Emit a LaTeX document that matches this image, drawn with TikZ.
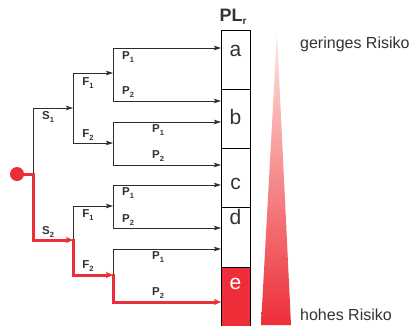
\documentclass[tikz,border=0pt]{standalone}
\usepackage{fontspec}
\setmainfont{Liberation Sans}
\usetikzlibrary{arrows.meta}
\definecolor{myred}{RGB}{237,46,56}
\definecolor{ln}{RGB}{45,45,45}
\definecolor{txt}{RGB}{50,50,50}
\definecolor{salmon}{RGB}{244,158,136}
\definecolor{pale}{RGB}{253,232,225}
\newcommand\lbl[2]{\textbf{#1\raisebox{-0.4ex}{\fontsize{7.5}{7.5}\selectfont #2}}}
\begin{document}
\begin{tikzpicture}[x=1pt,y=-1pt,
  conn/.style={draw=ln,line width=0.9pt},
  arr/.style={conn,-{Stealth[length=7pt,width=4.5pt,inset=1.5pt]}},
  rconn/.style={draw=myred,line width=3pt,line cap=rect},
  rarr/.style={rconn,-{Stealth[length=7pt,width=6pt,inset=1.5pt]}},
  box/.style={draw=black,line width=1.3pt,minimum width=29pt,inner sep=0pt,anchor=north west},
  letter/.style={font=\fontsize{21}{21}\selectfont,text=txt,inner sep=0pt},
  lab/.style={font=\fontsize{11.5}{11.5}\selectfont,text=txt,inner sep=0pt},
  risk/.style={font=\fontsize{16}{16}\selectfont,text=txt,inner sep=0pt,anchor=west}]
\useasboundingbox (0,0) rectangle (415,325);
% PL_r column
\node[box,minimum height=59pt] (ba) at (221,30) {};
\node[box,minimum height=59pt] (bb) at (221,89) {};
\node[box,minimum height=59pt] (bc) at (221,148) {};
\node[box,minimum height=60pt] (bd) at (221,207) {};
\node[box,minimum height=59pt,fill=myred] (be) at (221,267) {};
\node[letter] (la) at (235.5,51) {a};
\node[letter] (lb) at (235.5,117) {b};
\node[letter] (lc) at (235.5,184) {c};
\node[letter] (ld) at (235.5,217) {d};
\node[letter,text=white] (le) at (235.5,284) {e};
\node[inner sep=0pt,text=txt] (pl) at (233,17) {\textbf{\fontsize{18}{18}\selectfont PL\raisebox{-0.3ex}{\fontsize{10}{10}\selectfont r}}};
% risk wedge
\shade[top color=pale,middle color=salmon,bottom color=myred] (277,33) -- (291,325) -- (261,325) -- cycle;
\node[risk] (lo) at (300,44) {geringes Risiko};
\node[risk] (hi) at (300,315) {hohes Risiko};
% tree coordinates
\node[circle,fill=myred,minimum size=14pt,inner sep=0pt] (dot) at (17,174) {};
\coordinate (j0) at (33,174);
\coordinate (s1) at (73,108);
\coordinate (s2) at (73,240);
\coordinate (f11) at (113,73);
\coordinate (f12) at (113,143);
\coordinate (f21) at (113,206);
\coordinate (f22) at (113,275);
\coordinate (g1t) at (113,48);  \coordinate (g1b) at (113,101);
\coordinate (g2t) at (113,122); \coordinate (g2b) at (113,165);
\coordinate (g3t) at (113,185); \coordinate (g3b) at (113,228);
\coordinate (g4t) at (113,249); \coordinate (g4b) at (113,302);
% black connectors
\draw[arr] (j0) |- (s1);
\draw[conn] (f11 -| s1) -- (f12 -| s1);
\draw[arr] (f11 -| s1) -- (f11);
\draw[arr] (f12 -| s1) -- (f12);
\draw[conn] (f21 -| s2) -- (s2);
\draw[arr] (f21 -| s2) -- (f21);
\draw[conn] (g1t) -- (g1b);
\draw[conn] (g2t) -- (g2b);
\draw[conn] (g3t) -- (g3b);
\draw[conn] (g4t) -- (f22);
\draw[arr] (g1t) -- (g1t -| ba.west);
\draw[arr] (g1b) -- (g1b -| ba.west);
\draw[arr] (g2t) -- (g2t -| ba.west);
\draw[arr] (g2b) -- (g2b -| ba.west);
\draw[arr] (g3t) -- (g3t -| ba.west);
\draw[arr] (g3b) -- (g3b -| ba.west);
\draw[arr] (g4t) -- (g4t -| ba.west);
% red path
\draw[rarr] (dot.center) -- (j0) |- (s2);
\draw[rarr] (s2) |- (f22);
\draw[rarr] (f22) |- (g4b -| be.west);
% labels
\node[lab] (ts1) at (48,117) {\lbl{S}{1}};
\node[lab] (ts2) at (48,232) {\lbl{S}{2}};
\node[lab] (tf11) at (88,83) {\lbl{F}{1}};
\node[lab] (tf12) at (88,135) {\lbl{F}{2}};
\node[lab] (tf21) at (88,215) {\lbl{F}{1}};
\node[lab] (tf22) at (88,266) {\lbl{F}{2}};
\node[lab] (p11) at (128,57) {\lbl{P}{1}};
\node[lab] (p12) at (128,92) {\lbl{P}{2}};
\node[lab] (p21) at (158,130) {\lbl{P}{1}};
\node[lab] (p22) at (158,156) {\lbl{P}{2}};
\node[lab] (p31) at (128,193) {\lbl{P}{1}};
\node[lab] (p32) at (128,220) {\lbl{P}{2}};
\node[lab] (p41) at (158,257) {\lbl{P}{1}};
\node[lab] (p42) at (158,293) {\lbl{P}{2}};
\end{tikzpicture}
\end{document}
